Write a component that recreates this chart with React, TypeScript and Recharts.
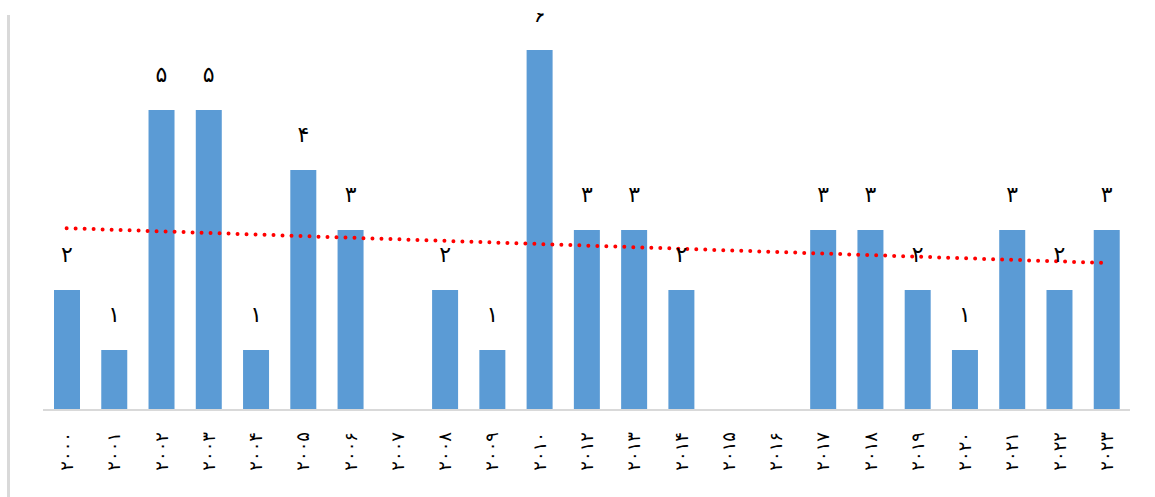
import { ComposedChart, Bar, Line, XAxis, YAxis, LabelList } from 'recharts';

// years along the axis (2011 is not in the source chart)
const years = [
  '۲۰۰۰', '۲۰۰۱', '۲۰۰۲', '۲۰۰۳', '۲۰۰۴', '۲۰۰۵', '۲۰۰۶', '۲۰۰۷', '۲۰۰۸', '۲۰۰۹', '۲۰۱۰', '۲۰۱۲',
  '۲۰۱۳', '۲۰۱۴', '۲۰۱۵', '۲۰۱۶', '۲۰۱۷', '۲۰۱۸', '۲۰۱۹', '۲۰۲۰', '۲۰۲۱', '۲۰۲۲', '۲۰۲۳',
];
const counts = [2, 1, 5, 5, 1, 4, 3, 0, 2, 1, 6, 3, 3, 2, 0, 0, 3, 3, 2, 1, 3, 2, 3];
// linear trend, read at its two ends
const trend: (number | null)[] = years.map(() => null);
trend[0] = 3.03;
trend[years.length - 1] = 2.45;

const faDigits = '۰۱۲۳۴۵۶۷۸۹';
const toFa = (n: number) => String(n).replace(/\d/g, (d) => faDigits[Number(d)]);

const data = years.map((year, i) => ({ year, count: counts[i], trend: trend[i] }));

const YearTick = ({ x, y, payload }: any) => {
  const ty = y + 14;
  return (
    <text
      x={x}
      y={ty}
      transform={`rotate(-90 ${x} ${ty})`}
      textAnchor="end"
      dominantBaseline="central"
      fontFamily="DejaVu Sans"
      fontSize={18}
      fill="#000"
    >
      {payload.value}
    </text>
  );
};

export default function App() {
  return (
    <div style={{ position: 'absolute', left: 0, top: 0, width: 1155, height: 497, background: '#fff' }}>
      <div style={{ position: 'absolute', left: 7, top: 15, width: 3, height: 482, background: '#d9d9d9' }} />
      <div style={{ position: 'absolute', left: 0, top: 13, width: 1155, height: 484, overflow: 'hidden' }}>
        <ComposedChart
          width={1155}
          height={484}
          data={data}
          margin={{ top: 37, right: 25, left: 43, bottom: 0 }}
          barCategoryGap={0}
        >
          <XAxis
            dataKey="year"
            interval={0}
            tickLine={false}
            axisLine={{ stroke: '#d9d9d9', strokeWidth: 2 }}
            height={87}
            tick={<YearTick />}
          />
          <YAxis hide domain={[0, 6]} />
          <Bar dataKey="count" fill="#5b9bd5" barSize={26} isAnimationActive={false}>
            <LabelList
              dataKey="count"
              position="top"
              offset={28}
              formatter={(v: any) => (v ? toFa(v) : '')}
              style={{ fontFamily: 'DejaVu Sans', fontSize: 22, fill: '#000' }}
            />
          </Bar>
          <Line
            dataKey="trend"
            connectNulls
            stroke="#ff0000"
            strokeWidth={4}
            strokeDasharray="0 9"
            strokeLinecap="round"
            dot={false}
            activeDot={false}
            isAnimationActive={false}
          />
        </ComposedChart>
      </div>
    </div>
  );
}
